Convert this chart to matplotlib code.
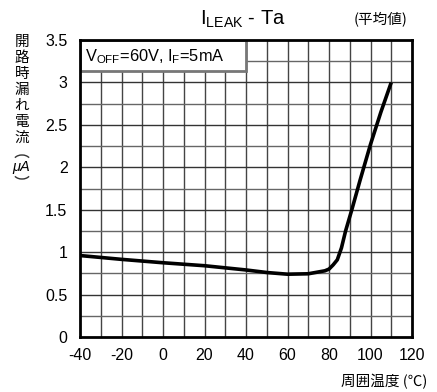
import matplotlib
matplotlib.use("Agg")
import matplotlib.pyplot as plt
from matplotlib.patches import Rectangle, Arc
from matplotlib.transforms import IdentityTransform
import numpy as np

plt.rcParams['font.family'] = ['Liberation Sans', 'Noto Sans CJK JP', 'DejaVu Sans']
plt.rcParams['axes.unicode_minus'] = False

temp = [-40, -20, 0, 20, 40, 50, 60, 70, 78, 80, 82, 84, 86, 88, 91, 95, 100, 105, 110]
ileak = [0.96, 0.915, 0.875, 0.84, 0.79, 0.76, 0.74, 0.745, 0.78, 0.80, 0.85, 0.91, 1.05, 1.25, 1.5, 1.85, 2.27, 2.65, 3.0]
xticks = [-40, -20, 0, 20, 40, 60, 80, 100, 120]
xtick_labels = ['-40', '-20', '0', '20', '40', '60', '80', '100', '120']
yticks = [0, 0.5, 1, 1.5, 2, 2.5, 3, 3.5]
ytick_labels = ['0', '0.5', '1', '1.5', '2', '2.5', '3', '3.5']
ylabel_chars = ['開', '路', '時', '漏', 'れ', '電', '流']

W, H = 437, 392
fig = plt.figure(figsize=(W/100, H/100), dpi=100)
ax = fig.add_axes([80/W, 1-337/H, 332/W, 297/H])
ax.set_xlim(-40, 120)
ax.set_ylim(0, 3.5)

for x in np.arange(-30, 120, 10):
    ax.axvline(x, color='#444444', lw=1.0, zorder=1)
for y in np.arange(0.25, 3.5, 0.25):
    ax.axhline(y, color='#333333' if abs(y*2-round(y*2)) < 1e-6 else '#666666', lw=1.0, zorder=1)

ax.plot(temp, ileak, color='black', lw=2.6, zorder=3, solid_capstyle='butt')

ax.set_xticks(xticks)
ax.set_xticklabels(xtick_labels)
ax.set_yticks(yticks)
ax.set_yticklabels(ytick_labels)
ax.tick_params(axis='x', length=0, labelsize=11.5, pad=8)
ax.tick_params(axis='y', length=0, labelsize=11.5, pad=9)
for s in ax.spines.values():
    s.set_linewidth(2)
    s.set_color('black')
    s.set_zorder(6)

# condition box
ax.add_patch(Rectangle((-40, 3.13), 80, 0.37, fc='white', ec='#777777', lw=2, zorder=4))
ax.text(-37.5, 3.305, r'V$_{\mathregular{OFF}}$=60V, I$_{\mathregular{F}}$=5mA', fontsize=11.8,
        va='center', ha='left', zorder=5)

fig.text(243/W, 1-19/H, r'I$_{\mathregular{LEAK}}$ - Ta', fontsize=14.5, ha='center', va='center')
fig.text(381/W, 1-19/H, '(平均値)', fontsize=10.5, ha='center', va='center',
         family=['Noto Sans CJK JP'])

ypos = [42, 58, 74, 90, 106, 122, 138]
for c, yp in zip(ylabel_chars, ypos):
    fig.text(22/W, 1-yp/H, c, fontsize=10.5, ha='center', va='center', family=['Noto Sans CJK JP'])
fig.text(21/W, 1-167/H, 'μA', fontsize=10.5, ha='center', va='center', style='italic')
fig.add_artist(Arc((22, H-161), 17, 12, theta1=25, theta2=155, transform=IdentityTransform(),
                   color='#333333', lw=1.0))
fig.add_artist(Arc((22, H-173), 17, 12, theta1=205, theta2=335, transform=IdentityTransform(),
                   color='#333333', lw=1.0))

fig.text(427/W, 1-382/H, '周囲温度 (℃)', fontsize=10.5, ha='right', va='center',
         family=['Noto Sans CJK JP', 'DejaVu Sans'])

fig.savefig('out.png', dpi=100)
